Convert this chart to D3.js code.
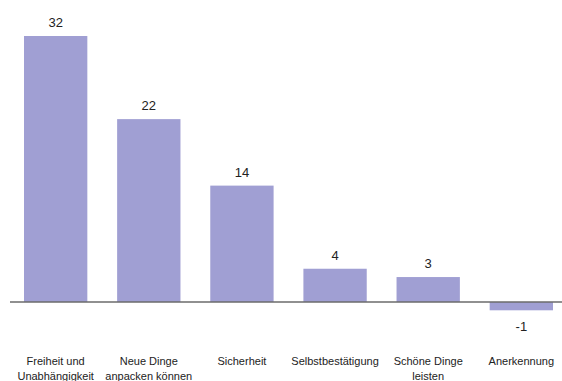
<!DOCTYPE html>
<html>
<head>
<meta charset="utf-8">
<script src="https://cdn.jsdelivr.net/npm/d3@7"></script>
<style>
  html, body { margin: 0; padding: 0; background: #fff; }
  svg { display: block; }
  text { font-family: "Liberation Sans", Arial, sans-serif; fill: #222; }
</style>
</head>
<body>
<svg id="chart" width="562" height="381"></svg>
<script>
// Motive (Werte) und ihre Punktzahlen
const categories = [
  ["Freiheit und", "Unabhängigkeit"],
  ["Neue Dinge", "anpacken können"],
  ["Sicherheit"],
  ["Selbstbestätigung"],
  ["Schöne Dinge", "leisten"],
  ["Anerkennung"]
];
const values = [32, 22, 14, 4, 3, -1];

const svg = d3.select("#chart");
const W = 562, H = 381;

const x = d3.scaleBand()
  .domain(d3.range(values.length))
  .range([24, 553])
  .paddingInner(0.32)
  .paddingOuter(0);

const y = d3.scaleLinear()
  .domain([-1, 32])
  .range([310.3, 36]);

const color = "#a09fd3";

// Balken
svg.append("g").selectAll("rect")
  .data(values)
  .join("rect")
  .attr("x", (d, i) => x(i))
  .attr("width", x.bandwidth())
  .attr("y", d => Math.min(y(d), y(0)))
  .attr("height", d => Math.abs(y(d) - y(0)))
  .attr("fill", color);

// Nulllinie
svg.append("line")
  .attr("x1", 10).attr("x2", W)
  .attr("y1", y(0)).attr("y2", y(0))
  .attr("stroke", "#6b6b6b")
  .attr("stroke-width", 1.5);

// Wertbeschriftungen
svg.append("g").selectAll("text")
  .data(values)
  .join("text")
  .attr("x", (d, i) => x(i) + x.bandwidth() / 2)
  .attr("y", d => d >= 0 ? y(d) - 9 : y(d) + 20.5)
  .attr("text-anchor", "middle")
  .attr("font-size", 13)
  .text(d => d);

// Kategorienbeschriftungen
const labels = svg.append("g").selectAll("text")
  .data(categories)
  .join("text")
  .attr("x", (d, i) => x(i) + x.bandwidth() / 2)
  .attr("y", 365)
  .attr("text-anchor", "middle")
  .attr("font-size", 11);

labels.selectAll("tspan")
  .data(d => d)
  .join("tspan")
  .attr("x", function() { return d3.select(this.parentNode).attr("x"); })
  .attr("dy", (d, j) => j === 0 ? 0 : 14.5)
  .text(d => d);
</script>
</body>
</html>
